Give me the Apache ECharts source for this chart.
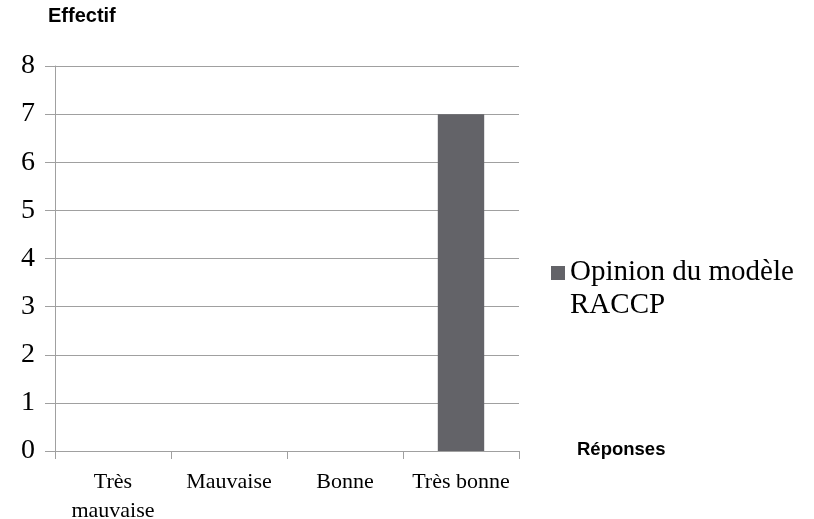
<!DOCTYPE html>
<html>
<head>
<meta charset="utf-8">
<script src="https://cdn.jsdelivr.net/npm/echarts@6/dist/echarts.min.js"></script>
<style>
  html, body { margin: 0; padding: 0; background: #fff; }
  #chart { width: 814px; height: 519px; }
</style>
</head>
<body>
<div id="chart"></div>
<script>
// données
const categories = ['Très\nmauvaise', 'Mauvaise', 'Bonne', 'Très bonne']
const effectifs = [0, 0, 0, 7]
const seriesName = 'Opinion du modèle RACCP'
const yTicks = { min: 0, max: 8, interval: 1 }

const serif = 'Liberation Serif'
const sans = 'Liberation Sans'
const gridColor = '#a0a0a0'

// carré de légende aligné sur la première ligne du texte
const legendIcon = 'path://M0,10h14v14h-14z M0,0h0.01v0.01h-0.01z M0,66h0.01v0.01h-0.01z'

const chart = echarts.init(document.getElementById('chart'), null, { renderer: 'canvas' })

chart.setOption({
  animation: false,
  backgroundColor: '#fff',
  title: [
    {
      text: 'Effectif',
      left: 48, top: 6,
      padding: 0,
      textStyle: { fontFamily: sans, fontWeight: 'bold', fontSize: 20, color: '#000' }
    },
    {
      text: 'Réponses',
      left: 577, top: 440,
      padding: 0,
      textStyle: { fontFamily: sans, fontWeight: 'bold', fontSize: 18.5, color: '#000' }
    }
  ],
  grid: { left: 55, right: 295, top: 66, bottom: 68, containLabel: false, outerBoundsMode: 'none' },
  legend: {
    left: 551,
    top: 256,
    orient: 'vertical',
    padding: 0,
    itemWidth: 14,
    itemHeight: 66,
    itemGap: 4,
    icon: legendIcon,
    formatter: () => 'Opinion du modèle\nRACCP',
    textStyle: {
      fontFamily: serif,
      fontSize: 29,
      lineHeight: 33,
      color: '#000'
    },
    data: [seriesName]
  },
  xAxis: {
    type: 'category',
    data: categories,
    boundaryGap: true,
    axisLine: { show: true, lineStyle: { color: gridColor, width: 1 } },
    axisTick: { show: true, length: 8, alignWithLabel: false, lineStyle: { color: gridColor } },
    axisLabel: {
      margin: 17,
      fontFamily: serif,
      fontSize: 22,
      lineHeight: 29,
      color: '#000',
      interval: 0
    },
    splitLine: { show: false }
  },
  yAxis: {
    type: 'value',
    min: yTicks.min,
    max: yTicks.max,
    interval: yTicks.interval,
    axisLine: { show: true, lineStyle: { color: gridColor, width: 1 } },
    axisTick: { show: true, length: 10, inside: false, lineStyle: { color: gridColor } },
    axisLabel: {
      margin: 20,
      fontFamily: serif,
      fontSize: 28,
      color: '#000'
    },
    splitLine: { show: true, lineStyle: { color: gridColor, width: 1 } }
  },
  series: [
    {
      name: seriesName,
      type: 'bar',
      data: effectifs,
      barWidth: '40%',
      itemStyle: { color: '#636368' }
    }
  ]
})
</script>
</body>
</html>
